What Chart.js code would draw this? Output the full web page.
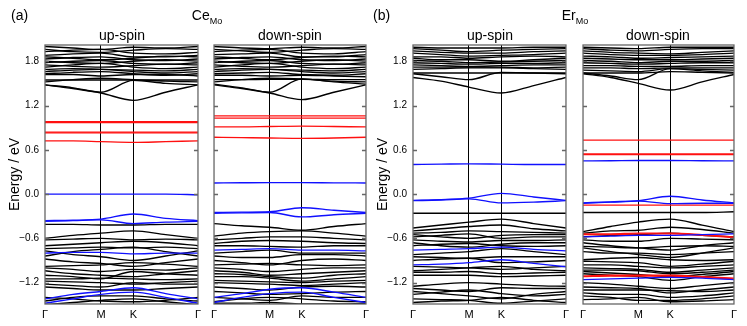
<!DOCTYPE html>
<html>
<head>
<meta charset="utf-8">
<script src="https://cdn.jsdelivr.net/npm/chart.js@4.4.1/dist/chart.umd.min.js"></script>
<style>
body { margin: 0; background: #fff; font-family: "Liberation Sans", Arial, sans-serif; }
#wrap { position: relative; width: 747px; height: 326px; overflow: hidden; }
canvas { position: absolute; top: 0; }
.lbl { position: absolute; font-size: 14px; line-height: 14px; color: #000; white-space: nowrap; transform: translateX(-50%); }
.lbl sub { font-size: 9px; vertical-align: -4px; }
.tag { position: absolute; font-size: 14px; line-height: 14px; }
</style>
</head>
<body>
<div id="wrap">
  <canvas id="ceUp" width="205" height="326" style="left:0px"></canvas>
  <canvas id="ceDown" width="166" height="326" style="left:207px"></canvas>
  <canvas id="erUp" width="205" height="326" style="left:368px"></canvas>
  <canvas id="erDown" width="165" height="326" style="left:576px"></canvas>

  <div class="tag" style="left:11px;top:8px">(a)</div>
  <div class="lbl" style="left:207px;top:8px">Ce<sub>Mo</sub></div>
  <div class="lbl" style="left:122px;top:28px">up-spin</div>
  <div class="lbl" style="left:290px;top:28px">down-spin</div>

  <div class="tag" style="left:373px;top:8px">(b)</div>
  <div class="lbl" style="left:575px;top:8px">Er<sub>Mo</sub></div>
  <div class="lbl" style="left:490px;top:28px">up-spin</div>
  <div class="lbl" style="left:658px;top:28px">down-spin</div>
</div>
<script>
// k-path: Γ, half Γ-M, M, K, half K-Γ, Γ
const kPath = [0, 0.289, 0.577, 0.911, 1.244, 1.577];
const kTicks = [0, 0.577, 0.911, 1.577];
const kLabels = ['Γ', 'M', 'K', 'Γ'];
const eTicks = [-1.2, -0.6, 0.0, 0.6, 1.2, 1.8];
const eMin = -1.49, eMax = 2.02;

// ---- Ce_Mo, up-spin ----
const ceUpBlack = [
  [2.00, 1.98, 1.96, 1.99, 1.98, 2.00], [1.96, 1.93, 1.92, 1.95, 1.97, 1.96],
  [1.93, 1.95, 1.96, 1.91, 1.90, 1.92], [1.88, 1.90, 1.91, 1.86, 1.86, 1.88],
  [1.86, 1.84, 1.82, 1.84, 1.87, 1.86], [1.83, 1.85, 1.86, 1.82, 1.81, 1.83],
  [1.80, 1.78, 1.77, 1.80, 1.82, 1.80], [1.78, 1.80, 1.81, 1.77, 1.76, 1.78],
  [1.75, 1.73, 1.72, 1.74, 1.76, 1.75], [1.72, 1.75, 1.77, 1.72, 1.70, 1.72],
  [1.69, 1.70, 1.69, 1.68, 1.67, 1.69], [1.66, 1.68, 1.69, 1.66, 1.64, 1.66],
  [1.63, 1.65, 1.66, 1.63, 1.61, 1.63], [1.62, 1.62, 1.60, 1.62, 1.62, 1.60],
  [1.545, 1.545, 1.545, 1.545, 1.545, 1.545], [1.52, 1.55, 1.57, 1.55, 1.53, 1.52],
  [1.48, 1.44, 1.38, 1.54, 1.50, 1.48], [1.48, 1.43, 1.37, 1.27, 1.38, 1.48],
  [-0.41, -0.41, -0.42, -0.42, -0.41, -0.41], [-0.60, -0.56, -0.53, -0.50, -0.55, -0.60],
  [-0.62, -0.61, -0.60, -0.62, -0.61, -0.62], [-0.70, -0.68, -0.66, -0.64, -0.66, -0.70],
  [-0.74, -0.73, -0.72, -0.73, -0.72, -0.74], [-0.77, -0.82, -0.85, -0.90, -0.84, -0.77],
  [-0.84, -0.78, -0.75, -0.72, -0.78, -0.84], [-0.88, -0.92, -0.94, -0.98, -0.93, -0.88],
  [-0.98, -0.97, -0.96, -0.93, -0.95, -0.98], [-1.00, -1.02, -1.05, -1.02, -1.03, -1.00],
  [-1.04, -1.08, -1.10, -1.12, -1.08, -1.04], [-1.10, -1.12, -1.15, -1.05, -1.08, -1.10],
  [-1.15, -1.15, -1.14, -1.15, -1.16, -1.15], [-1.18, -1.19, -1.20, -1.22, -1.20, -1.18],
  [-1.22, -1.24, -1.26, -1.20, -1.22, -1.22], [-1.26, -1.28, -1.30, -1.30, -1.28, -1.26],
  [-1.40, -1.42, -1.45, -1.46, -1.44, -1.40], [-1.45, -1.40, -1.38, -1.38, -1.42, -1.45],
  [-1.50, -1.47, -1.44, -1.42, -1.46, -1.50]
];
const ceUpRed = [
  [0.98, 0.98, 0.98, 0.98, 0.98, 0.98], [0.97, 0.97, 0.97, 0.97, 0.97, 0.97],
  [0.84, 0.84, 0.84, 0.84, 0.84, 0.84], [0.83, 0.83, 0.83, 0.83, 0.83, 0.83],
  [0.72, 0.72, 0.71, 0.70, 0.71, 0.72]
];
const ceUpBlue = [
  [0.00, 0.00, 0.00, 0.00, 0.00, -0.01],
  [-0.36, -0.355, -0.34, -0.27, -0.33, -0.36], [-0.37, -0.36, -0.35, -0.40, -0.38, -0.37],
  [-0.80, -0.79, -0.79, -0.81, -0.80, -0.80],
  [-1.42, -1.36, -1.32, -1.27, -1.35, -1.42], [-1.48, -1.42, -1.36, -1.33, -1.40, -1.48]
];

// ---- Ce_Mo, down-spin ----
const ceDownBlack = [
  [2.00, 1.98, 1.97, 1.99, 1.98, 2.00], [1.96, 1.94, 1.92, 1.95, 1.97, 1.96],
  [1.93, 1.95, 1.96, 1.91, 1.90, 1.93], [1.89, 1.90, 1.91, 1.86, 1.86, 1.89],
  [1.86, 1.84, 1.82, 1.85, 1.87, 1.86], [1.83, 1.85, 1.86, 1.82, 1.81, 1.83],
  [1.80, 1.78, 1.77, 1.80, 1.82, 1.80], [1.78, 1.80, 1.81, 1.77, 1.76, 1.78],
  [1.75, 1.73, 1.72, 1.74, 1.76, 1.75], [1.72, 1.75, 1.77, 1.72, 1.70, 1.72],
  [1.69, 1.70, 1.69, 1.68, 1.67, 1.69], [1.66, 1.68, 1.69, 1.66, 1.64, 1.66],
  [1.63, 1.64, 1.65, 1.62, 1.61, 1.63], [1.61, 1.61, 1.60, 1.61, 1.60, 1.59],
  [1.55, 1.55, 1.555, 1.555, 1.55, 1.55], [1.52, 1.55, 1.57, 1.56, 1.53, 1.52],
  [1.49, 1.44, 1.38, 1.56, 1.52, 1.49], [1.48, 1.43, 1.37, 1.28, 1.38, 1.48],
  [-0.40, -0.43, -0.45, -0.49, -0.44, -0.40], [-0.57, -0.53, -0.51, -0.50, -0.53, -0.57],
  [-0.62, -0.60, -0.58, -0.58, -0.60, -0.62], [-0.67, -0.64, -0.63, -0.64, -0.66, -0.67],
  [-0.70, -0.70, -0.71, -0.72, -0.70, -0.70], [-0.80, -0.78, -0.76, -0.80, -0.80, -0.80],
  [-0.84, -0.86, -0.86, -0.82, -0.82, -0.84], [-0.90, -0.93, -0.96, -0.90, -0.88, -0.90],
  [-0.96, -0.95, -0.94, -0.96, -0.97, -0.96], [-1.00, -1.02, -1.05, -1.02, -1.00, -1.00],
  [-1.04, -1.06, -1.10, -1.08, -1.06, -1.04], [-1.08, -1.09, -1.12, -1.14, -1.10, -1.08],
  [-1.12, -1.12, -1.14, -1.18, -1.15, -1.12], [-1.17, -1.18, -1.19, -1.20, -1.18, -1.17],
  [-1.20, -1.21, -1.22, -1.24, -1.22, -1.20], [-1.26, -1.28, -1.30, -1.26, -1.25, -1.26],
  [-1.32, -1.34, -1.36, -1.35, -1.33, -1.32], [-1.40, -1.42, -1.44, -1.38, -1.40, -1.40],
  [-1.46, -1.42, -1.40, -1.42, -1.45, -1.46], [-1.48, -1.48, -1.47, -1.49, -1.49, -1.48]
];
const ceDownRed = [
  [1.06, 1.06, 1.06, 1.06, 1.06, 1.06], [1.03, 1.03, 1.03, 1.03, 1.03, 1.03],
  [0.91, 0.91, 0.915, 0.92, 0.915, 0.91], [0.77, 0.765, 0.76, 0.755, 0.76, 0.77]
];
const ceDownBlue = [
  [0.15, 0.153, 0.155, 0.155, 0.152, 0.15],
  [-0.25, -0.245, -0.24, -0.185, -0.22, -0.25], [-0.26, -0.255, -0.25, -0.31, -0.28, -0.26],
  [-0.76, -0.75, -0.74, -0.76, -0.76, -0.77],
  [-1.40, -1.35, -1.29, -1.27, -1.33, -1.40], [-1.47, -1.40, -1.35, -1.33, -1.40, -1.47]
];

// ---- Er_Mo, up-spin ----
const erUpBlack = [
  [1.99, 1.98, 1.98, 1.98, 1.99, 1.99], [1.97, 1.95, 1.93, 1.95, 1.96, 1.97],
  [1.94, 1.92, 1.91, 1.91, 1.93, 1.94], [1.91, 1.89, 1.87, 1.88, 1.89, 1.91],
  [1.86, 1.86, 1.84, 1.86, 1.87, 1.86], [1.84, 1.82, 1.82, 1.80, 1.82, 1.84],
  [1.81, 1.80, 1.78, 1.79, 1.80, 1.81], [1.78, 1.77, 1.76, 1.77, 1.77, 1.78],
  [1.75, 1.74, 1.73, 1.74, 1.75, 1.75], [1.72, 1.72, 1.72, 1.72, 1.71, 1.72],
  [1.69, 1.70, 1.71, 1.71, 1.70, 1.69], [1.64, 1.64, 1.64, 1.64, 1.64, 1.64],
  [1.63, 1.59, 1.55, 1.65, 1.64, 1.63], [1.58, 1.53, 1.45, 1.37, 1.47, 1.58],
  [-0.26, -0.26, -0.26, -0.26, -0.26, -0.26], [-0.46, -0.42, -0.38, -0.34, -0.40, -0.46],
  [-0.50, -0.47, -0.44, -0.42, -0.47, -0.50], [-0.53, -0.52, -0.50, -0.51, -0.52, -0.53],
  [-0.55, -0.58, -0.60, -0.56, -0.55, -0.55], [-0.58, -0.56, -0.54, -0.60, -0.58, -0.58],
  [-0.62, -0.64, -0.65, -0.63, -0.63, -0.62], [-0.66, -0.70, -0.72, -0.68, -0.66, -0.66],
  [-0.70, -0.68, -0.67, -0.70, -0.71, -0.70], [-0.82, -0.80, -0.78, -0.74, -0.78, -0.82],
  [-0.85, -0.86, -0.87, -0.85, -0.85, -0.85], [-0.90, -0.88, -0.87, -0.93, -0.92, -0.90],
  [-0.98, -0.99, -1.00, -1.02, -1.00, -0.98], [-1.04, -1.02, -1.00, -0.98, -1.02, -1.04],
  [-1.06, -1.06, -1.05, -1.08, -1.07, -1.06], [-1.10, -1.10, -1.10, -1.12, -1.11, -1.10],
  [-1.25, -1.22, -1.20, -1.22, -1.24, -1.25], [-1.28, -1.30, -1.32, -1.27, -1.28, -1.28],
  [-1.32, -1.35, -1.38, -1.42, -1.36, -1.32], [-1.36, -1.33, -1.30, -1.35, -1.38, -1.36],
  [-1.42, -1.43, -1.44, -1.48, -1.45, -1.42], [-1.47, -1.45, -1.44, -1.40, -1.44, -1.47]
];
const erUpRed = [];
const erUpBlue = [
  [0.40, 0.405, 0.41, 0.405, 0.40, 0.40],
  [-0.085, -0.075, -0.055, 0.01, -0.04, -0.085], [-0.09, -0.08, -0.065, -0.12, -0.11, -0.09],
  [-0.76, -0.75, -0.74, -0.72, -0.75, -0.77],
  [-0.96, -0.95, -0.93, -0.89, -0.94, -0.985]
];

// ---- Er_Mo, down-spin ----
const erDownBlack = [
  [1.99, 1.98, 1.97, 1.99, 1.99, 1.99], [1.97, 1.95, 1.94, 1.96, 1.97, 1.97],
  [1.94, 1.92, 1.91, 1.90, 1.92, 1.94], [1.91, 1.89, 1.88, 1.88, 1.89, 1.91],
  [1.87, 1.86, 1.84, 1.85, 1.86, 1.87], [1.84, 1.83, 1.82, 1.82, 1.83, 1.84],
  [1.81, 1.80, 1.78, 1.80, 1.80, 1.81], [1.78, 1.77, 1.76, 1.77, 1.78, 1.78],
  [1.74, 1.74, 1.73, 1.73, 1.74, 1.74], [1.71, 1.71, 1.70, 1.71, 1.71, 1.71],
  [1.68, 1.67, 1.66, 1.70, 1.69, 1.68], [1.64, 1.64, 1.64, 1.66, 1.65, 1.64],
  [1.64, 1.60, 1.55, 1.70, 1.67, 1.65], [1.63, 1.58, 1.50, 1.41, 1.52, 1.62],
  [-0.25, -0.25, -0.25, -0.25, -0.25, -0.24], [-0.51, -0.44, -0.38, -0.34, -0.42, -0.51],
  [-0.53, -0.50, -0.49, -0.45, -0.48, -0.53], [-0.58, -0.56, -0.55, -0.53, -0.56, -0.58],
  [-0.62, -0.64, -0.64, -0.60, -0.61, -0.62], [-0.66, -0.70, -0.73, -0.76, -0.70, -0.66],
  [-0.71, -0.72, -0.73, -0.71, -0.70, -0.71], [-0.73, -0.78, -0.82, -0.86, -0.80, -0.73],
  [-0.78, -0.80, -0.80, -0.82, -0.80, -0.78], [-0.89, -0.87, -0.86, -0.89, -0.90, -0.89],
  [-0.91, -0.92, -0.93, -0.98, -0.95, -0.91], [-0.96, -0.96, -0.98, -1.00, -0.98, -0.96],
  [-1.00, -1.01, -1.02, -1.06, -1.03, -1.00], [-1.03, -1.03, -1.04, -1.08, -1.06, -1.03],
  [-1.05, -1.07, -1.09, -1.12, -1.09, -1.05], [-1.08, -1.10, -1.12, -1.17, -1.12, -1.08],
  [-1.20, -1.22, -1.25, -1.28, -1.24, -1.20], [-1.26, -1.27, -1.28, -1.34, -1.30, -1.26],
  [-1.30, -1.30, -1.30, -1.31, -1.32, -1.30], [-1.34, -1.36, -1.36, -1.40, -1.38, -1.34],
  [-1.38, -1.40, -1.44, -1.44, -1.42, -1.38], [-1.43, -1.42, -1.40, -1.46, -1.45, -1.43]
];
const erDownRed = [
  [0.73, 0.73, 0.73, 0.73, 0.73, 0.73], [0.545, 0.545, 0.545, 0.545, 0.545, 0.545],
  [0.535, 0.535, 0.535, 0.535, 0.535, 0.535], [-0.15, -0.15, -0.15, -0.15, -0.15, -0.15],
  [-0.54, -0.54, -0.53, -0.53, -0.55, -0.58], [-0.55, -0.55, -0.54, -0.54, -0.56, -0.59],
  [-1.11, -1.10, -1.10, -1.10, -1.12, -1.14], [-1.12, -1.11, -1.11, -1.11, -1.13, -1.15]
];
const erDownBlue = [
  [0.45, 0.452, 0.455, 0.455, 0.452, 0.45],
  [-0.12, -0.105, -0.09, -0.03, -0.08, -0.12], [-0.125, -0.11, -0.095, -0.13, -0.125, -0.125],
  [-0.58, -0.57, -0.56, -0.56, -0.55, -0.54],
  [-1.16, -1.15, -1.14, -1.13, -1.14, -1.16]
];

function bandSets(list, color) {
  return list.map(e => ({
    data: kPath.map((k, i) => ({x: k, y: e[i]})),
    borderColor: color,
    borderWidth: 1.35,
    pointRadius: 0,
    cubicInterpolationMode: 'monotone',
    fill: false
  }));
}

// grey frame with small inward ticks on both sides
const framePlugin = {
  id: 'frame',
  afterDraw(chart) {
    const {ctx, chartArea: a} = chart;
    const y = chart.scales.y;
    ctx.save();
    ctx.strokeStyle = '#666';
    ctx.lineWidth = 1.3;
    ctx.strokeRect(a.left, a.top, a.right - a.left, a.bottom - a.top);
    ctx.beginPath();
    eTicks.forEach(v => {
      const py = Math.round(y.getPixelForValue(v)) + 0.5;
      ctx.moveTo(a.left, py); ctx.lineTo(a.left + 4, py);
      ctx.moveTo(a.right, py); ctx.lineTo(a.right - 4, py);
    });
    ctx.stroke();
    ctx.restore();
  }
};

function makePanel(id, black, red, blue, axisWidth, showY) {
  // coloured bands first so they are drawn on top
  const datasets = bandSets(blue, '#1010ff').concat(bandSets(red, '#ff1010'), bandSets(black, '#000'));
  new Chart(document.getElementById(id), {
    type: 'line',
    data: {datasets: datasets},
    plugins: [framePlugin],
    options: {
      responsive: false,
      animation: false,
      events: [],
      layout: {padding: {top: 45, right: 5, bottom: 0, left: 0}},
      plugins: {legend: {display: false}, tooltip: {enabled: false}},
      scales: {
        x: {
          type: 'linear',
          min: 0,
          max: kPath[kPath.length - 1],
          afterBuildTicks: s => { s.ticks = kTicks.map(v => ({value: v})); },
          afterFit: s => { s.height = 22; },
          border: {display: false},
          grid: {
            drawTicks: false,
            lineWidth: 1,
            color: c => (c.tick && (c.tick.value === kTicks[1] || c.tick.value === kTicks[2])) ? '#000' : 'rgba(0,0,0,0)'
          },
          ticks: {
            autoSkip: false,
            maxRotation: 0,
            padding: 4,
            color: '#000',
            font: {family: 'Liberation Sans', size: 11},
            callback: (v, i) => kLabels[i]
          }
        },
        y: {
          type: 'linear',
          min: eMin,
          max: eMax,
          afterBuildTicks: s => { s.ticks = eTicks.map(v => ({value: v})); },
          afterFit: s => { s.width = axisWidth; },
          border: {display: false},
          grid: {display: false, drawTicks: false},
          title: {
            display: showY,
            text: 'Energy / eV',
            color: '#000',
            padding: {top: 7, bottom: 0},
            font: {family: 'Liberation Sans', size: 14}
          },
          ticks: {
            display: showY,
            padding: 6,
            color: '#000',
            font: {family: 'Liberation Sans', size: 10},
            callback: v => v.toFixed(1).replace('-', '\u2212')
          }
        }
      }
    }
  });
}

makePanel('ceUp', ceUpBlack, ceUpRed, ceUpBlue, 45, true);
makePanel('ceDown', ceDownBlack, ceDownRed, ceDownBlue, 5, false);
makePanel('erUp', erUpBlack, erUpRed, erUpBlue, 45, true);
makePanel('erDown', erDownBlack, erDownRed, erDownBlue, 5, false);
</script>
</body>
</html>
